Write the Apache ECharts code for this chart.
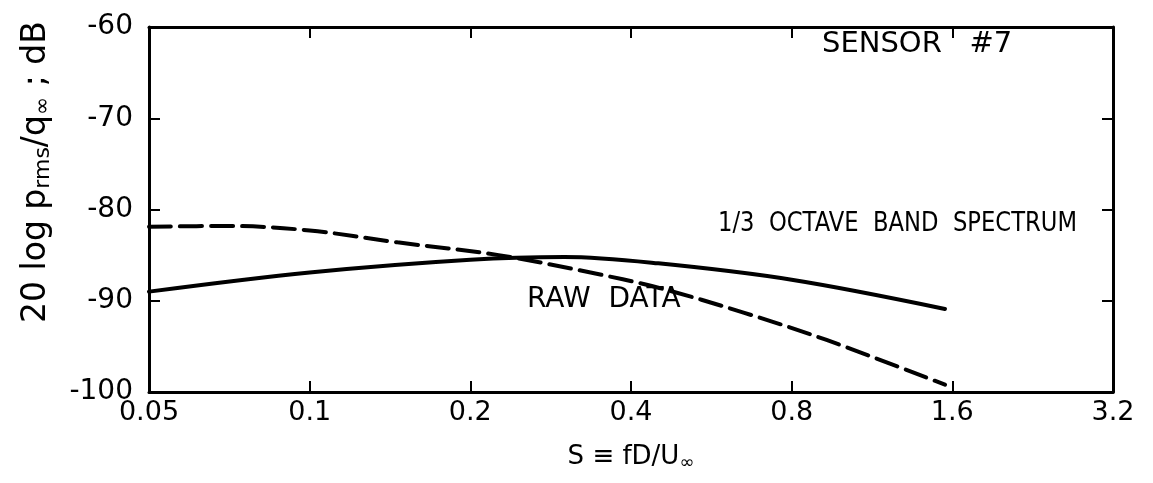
<!DOCTYPE html>
<html>
<head>
<meta charset="utf-8">
<script src="https://cdn.jsdelivr.net/npm/echarts@6/dist/echarts.min.js"></script>
<style>
html,body{margin:0;padding:0;background:#fff;}
#chart{width:1153px;height:483px;}
</style>
</head>
<body>
<div id="chart"></div>
<script>
// Strouhal number S (log2 axis) tick labels
const xTicks = [0.05, 0.1, 0.2, 0.4, 0.8, 1.6, 3.2];
const xTickLabels = ['0.05', '0.1', '0.2', '0.4', '0.8', '1.6', '3.2'];
const yTicks = [-100, -90, -80, -70, -60];

// 1/3 octave band spectrum (solid)
const octaveS   = [0.05, 0.1, 0.2, 0.3, 0.45, 0.8, 1.55];
const octaveDB  = [-89.0, -86.9, -85.5, -85.2, -85.9, -87.7, -90.9];

// Raw data (dashed)
const rawS  = [0.05, 0.07, 0.1, 0.146, 0.226, 0.329, 0.452, 0.65, 0.93, 1.55];
const rawDB = [-81.9, -81.8, -82.3, -83.6, -85.0, -86.8, -88.6, -91.3, -94.3, -99.2];

const FONT = 'DejaVu Sans';
const chart = echarts.init(document.getElementById('chart'));

function pairs(xs, ys){ return xs.map((x,i)=>[x, ys[i]]); }
function xLabel(v){
  let best = 0, bd = Infinity;
  xTicks.forEach((t,i)=>{ const d=Math.abs(Math.log(v)-Math.log(t)); if(d<bd){bd=d;best=i;} });
  return xTickLabels[best];
}

const lineColor = '#000';
const axisBase = {
  axisLine: {show: true, lineStyle: {color: lineColor, width: 3}},
  splitLine: {show: false},
  minorTick: {show: false}
};

chart.setOption({
  animation: false,
  backgroundColor: '#fff',
  grid: {left: 149, right: 40, top: 27, bottom: 91},
  xAxis: [
    Object.assign({}, axisBase, {
      type: 'log', logBase: 2, min: 0.05, max: 3.2, position: 'bottom',
      name: 'S \u2261 fD/U{sub|\u221E}', nameLocation: 'middle', nameGap: 50,
      nameTextStyle: {fontFamily: FONT, fontSize: 26, color: '#000',
        rich: {sub: {fontFamily: FONT, fontSize: 18, color: '#000', verticalAlign: 'bottom', padding: [12,0,0,0]}}},
      axisTick: {show: true, inside: true, length: 11, lineStyle: {color: lineColor, width: 2}, customValues: xTicks},
      axisLabel: {show: true, fontFamily: FONT, fontSize: 27, color: '#000', margin: 7, customValues: xTicks, formatter: xLabel}
    }),
    Object.assign({}, axisBase, {
      type: 'log', logBase: 2, min: 0.05, max: 3.2, position: 'top',
      axisTick: {show: true, inside: true, length: 11, lineStyle: {color: lineColor, width: 2}, customValues: xTicks},
      axisLabel: {show: false}
    })
  ],
  yAxis: [
    Object.assign({}, axisBase, {
      type: 'value', min: -100, max: -60, interval: 10, position: 'left',
      axisTick: {show: true, inside: true, length: 11, lineStyle: {color: lineColor, width: 2}},
      axisLabel: {fontFamily: FONT, fontSize: 28, color: '#000', margin: 16,
        formatter: v => yTicks.indexOf(v) >= 0 ? String(v) : ''}
    }),
    Object.assign({}, axisBase, {
      type: 'value', min: -100, max: -60, interval: 10, position: 'right',
      axisTick: {show: true, inside: true, length: 11, lineStyle: {color: lineColor, width: 2}},
      axisLabel: {show: false}
    })
  ],
  series: [
    {
      name: '1/3 OCTAVE BAND SPECTRUM', type: 'line', smooth: 0.35, symbol: 'none',
      data: pairs(octaveS, octaveDB),
      lineStyle: {color: '#000', width: 4, cap: 'round'}
    },
    {
      name: 'RAW DATA', type: 'line', smooth: 0.35, symbol: 'none',
      data: pairs(rawS, rawDB),
      lineStyle: {color: '#000', width: 4, type: [22, 9], cap: 'round'}
    }
  ],
  graphic: [
    {type: 'text', x: 36, y: 172, rotation: Math.PI / 2,
      style: {text: '20 log p{sub|rms}/q{sub|\u221E} ; dB', font: '33px "DejaVu Sans"', fill: '#000',
        align: 'center', verticalAlign: 'middle',
        rich: {sub: {font: '22px "DejaVu Sans"', fill: '#000', verticalAlign: 'bottom', padding: [14,0,0,0]}}}},
    {type: 'text', x: 822, y: 30, style: {text: 'SENSOR   #7', font: '29px "DejaVu Sans"', fill: '#000'}},
    {type: 'text', x: 718, y: 210, scaleX: 0.84, style: {text: '1/3  OCTAVE  BAND  SPECTRUM', font: '27px "DejaVu Sans"', fill: '#000'}},
    {type: 'text', x: 527, y: 286, style: {text: 'RAW  DATA', font: '28px "DejaVu Sans"', fill: '#000'}}
  ]
});
</script>
</body>
</html>
